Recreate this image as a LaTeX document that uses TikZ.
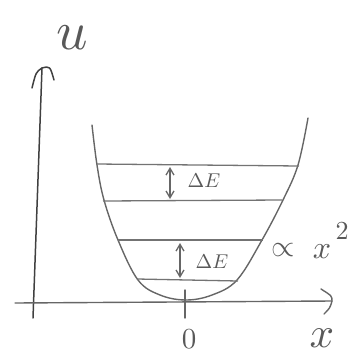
\documentclass[tikz,border=0pt]{standalone}
\usetikzlibrary{arrows.meta}

\begin{document}
\begin{tikzpicture}[
  x=1pt, y=-1pt,
  axis/.style={line width=1.5pt, draw=black!75, line cap=round},
  curve/.style={line width=1.4pt, draw=black!60, line cap=round},
  level/.style={line width=1.3pt, draw=black!55},
  gap/.style={{Straight Barb[length=2.4mm,width=2.8mm]}-{Straight Barb[length=2.4mm,width=2.8mm]}, line width=1.3pt, draw=black!60},
  lab/.style={text=black!65, inner sep=0pt}
]
\useasboundingbox (0,0) rectangle (362,357);

% axes
\coordinate (o) at (185,302);
\coordinate (ybot) at (33,318);
\coordinate (ytop) at (42,68);
\coordinate (xleft) at (15,303);
\coordinate (xright) at (332,301);
\draw[axis] (ybot) -- (ytop);
\draw[axis] (32,88) .. controls (36,72) .. (ytop) .. controls (50,66) .. (54,80);
\draw[curve] (xleft) -- (xright);
\draw[curve] (321,289) .. controls (332,296) .. (xright) .. controls (330,308) .. (324,314);
\draw[curve] (185,290) -- (185,318);

% potential well
\draw[curve] plot[smooth, tension=0.6] coordinates {
  (92,125) (97,165) (104,200) (118,240) (138,280) (160,295) (186,300)
  (212,295) (237,280) (262,240) (283,200) (298,165) (308,118)};

% energy levels
\coordinate (l1a) at (97,164);  \coordinate (l1b) at (299,166);
\coordinate (l2a) at (103,201); \coordinate (l2b) at (282,200);
\coordinate (l3a) at (118,240); \coordinate (l3b) at (263,240);
\coordinate (l4a) at (137,279); \coordinate (l4b) at (238,281);
\foreach \n in {1,...,4}
  \draw[level] (l\n a) -- (l\n b);

% spacings
\coordinate (g1t) at (170,167); \coordinate (g1b) at (170,199);
\coordinate (g2t) at (180,243); \coordinate (g2b) at (180,278);
\draw[gap] (g1t) -- (g1b);
\draw[gap] (g2t) -- (g2b);
\node[lab, scale=2] (de1) at (204,181) {$\Delta E$};
\node[lab, scale=2] (de2) at (212,262) {$\Delta E$};

% labels
\node[lab, scale=5.5] (ulab) at (72,38) {$u$};
\node[lab, scale=4.3] (xlab) at (322,338) {$x$};
\node[lab, scale=2.9] (zero) at (189,339) {$0$};
\node[lab, scale=3] (prop) at (283,250) {$\propto$};
\node[lab, scale=3.2] (xsq) at (322,252) {$x$};
\node[lab, scale=2.6] (pow) at (342,231) {$2$};
\end{tikzpicture}
\end{document}
